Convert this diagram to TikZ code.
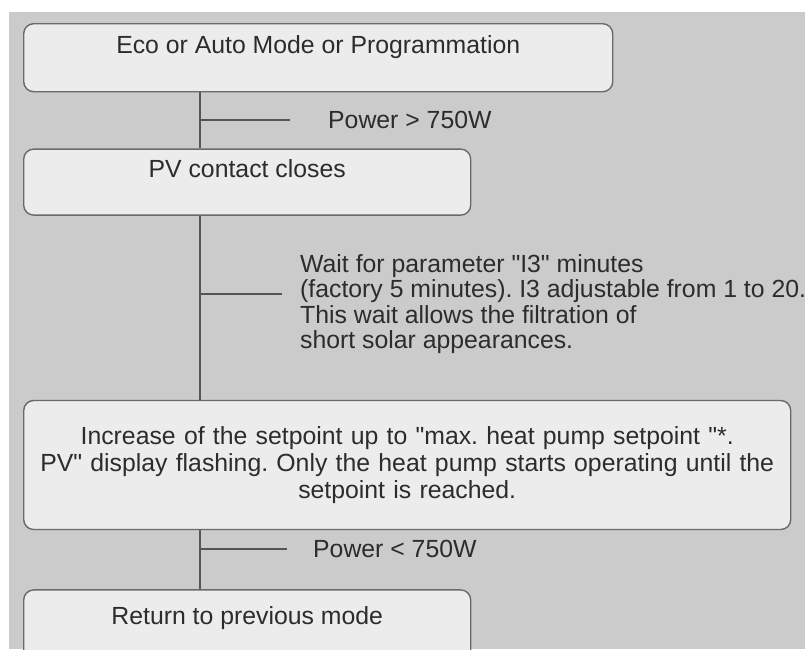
\documentclass[tikz,border=0pt]{standalone}
\usepackage{fontspec}
\setmainfont{Liberation Sans}[Ligatures=TeXOff]
\usepackage{xcolor}
\usepackage{tikz}
\usetikzlibrary{positioning}

\definecolor{bgfill}{HTML}{CBCBCB}
\definecolor{boxfill}{HTML}{ECECEC}
\definecolor{boxline}{HTML}{6A6A6A}
\definecolor{wire}{HTML}{555555}
\definecolor{ink}{HTML}{2C2C2C}

\begin{document}
\frenchspacing
\begin{tikzpicture}[
    x=1pt, y=1pt,
    font=\fontsize{24.8pt}{25.5pt}\selectfont, text=ink,
    stage/.style={draw=boxline, line width=1.4pt, fill=boxfill, rounded corners=10pt, inner sep=0pt, align=center},
    cond/.style={inner sep=0pt, anchor=west, align=left},
    spine/.style={draw=wire, line width=2.2pt}
]
\useasboundingbox (0,0) rectangle (805,-649);
\fill[bgfill] (9,-12) rectangle (805,-649);

% Stages from top to bottom
\node[stage, anchor=north west, minimum width=589pt, text height=30pt, text depth=38pt] (mode) at (23,-23) {Eco or Auto Mode or Programmation};
\node[stage, below=56pt of mode.south west, anchor=north west, minimum width=447pt, text height=28pt, text depth=38pt] (pv) {PV contact closes};
\node[stage, below=184pt of pv.south west, anchor=north west, text width=767pt, minimum height=129pt, font=\fontsize{24.8pt}{27pt}\selectfont] (heat) {Increase of the setpoint up to "max. heat pump setpoint "*.\\PV" display flashing. Only the heat pump starts operating until the\\setpoint is reached.};
\node[stage, below=59pt of heat.south west, anchor=north west, minimum width=447pt, text height=35pt, text depth=50pt] (back) {Return to previous mode};

% Spine linking the stages
\coordinate (sp) at (200,0);
\draw[spine] (mode.south -| sp) -- (pv.north -| sp);
\draw[spine] (pv.south -| sp) -- (heat.north -| sp);
\draw[spine] (heat.south -| sp) -- (back.north -| sp);

% Conditions on the spine
\node[cond] (over) at (328,-120) {Power > 750W};
\node[cond] (wait) at (300,-304) {Wait for parameter "I3" minutes\\(factory 5 minutes). I3 adjustable from 1 to 20.\\This wait allows the filtration of\\short solar appearances.};
\node[cond] (under) at (313,-549) {Power < 750W};

\draw[spine] (over.west -| sp) -- ++(90,0);
\draw[spine] (wait.west -| sp) ++(0,10) -- ++(82,0);
\draw[spine] (under.west -| sp) -- ++(87,0);

\end{tikzpicture}
\end{document}
